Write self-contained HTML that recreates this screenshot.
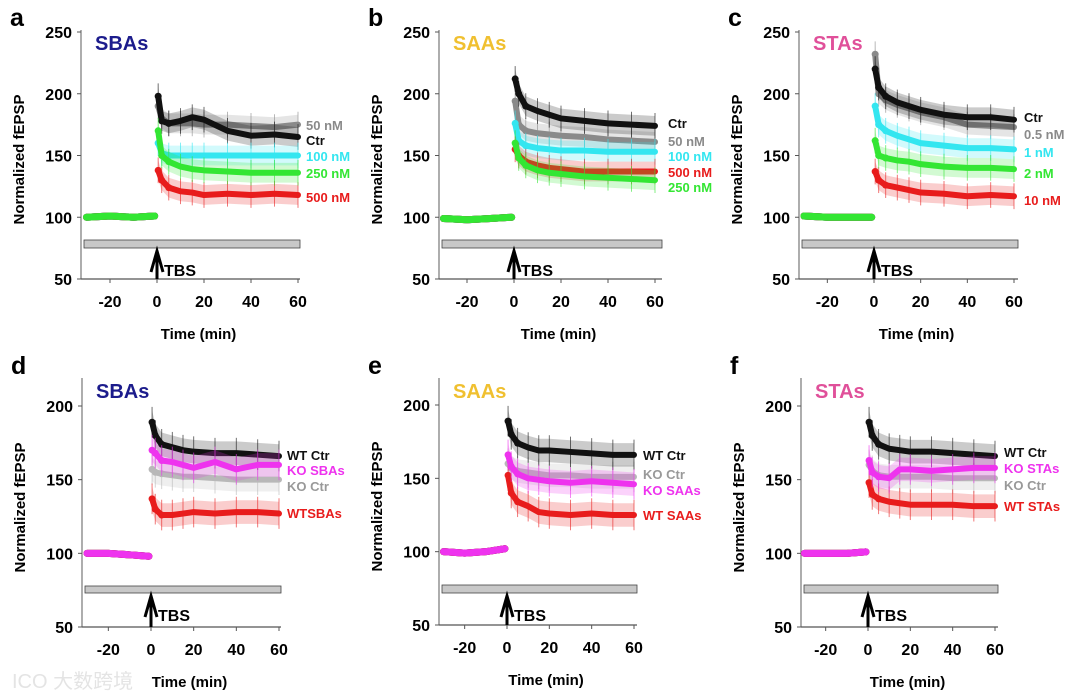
<!DOCTYPE html>
<html><head><meta charset="utf-8"><style>
body{margin:0;background:#fff;}
svg{display:block;font-family:"Liberation Sans",Arial,sans-serif;}
</style></head><body>
<svg id="fig" width="1080" height="698" viewBox="0 0 1080 698" xmlns="http://www.w3.org/2000/svg">
<text x="12" y="688" font-size="20" fill="#e4e4e4" font-family="Liberation Sans, Noto Sans CJK SC, sans-serif">ICO 大数跨境</text>
</svg>
<script>
const T_PRE=[-30,-20,-10,-1];
const T_POST=[0.5,2,5,10,15,20,30,40,50,60];
const X_TICKS=[-20,0,20,40,60];
const Y_TICKS_TOP=[50,100,150,200,250];
const Y_TICKS_BOT=[50,100,150,200];
// panel a
const aPre=[100,101,100,101];
const a50=[190,180,176,176,176,175,175,174,173,175];
const aCtr=[198,178,176,178,181,179,170,166,167,165];
const a100=[160,152,150,150,150,150,150,150,150,150];
const a250=[170,150,145,141,139,138,137,136,136,136];
const a500=[138,130,124,121,120,118,119,118,119,118];
// panel b
const bPre=[99,98,99,100];
const bCtr=[212,200,190,186,183,180,178,176,175,174];
const b50=[194,175,170,168,167,166,165,163,162,161];
const b100=[176,162,158,156,155,154,154,153,153,153];
const b500=[155,150,145,142,140,139,137,137,137,137];
const b250=[160,148,142,138,136,135,133,132,131,130];
// panel c
const cPre=[101,100,100,100];
const cCtr=[220,205,198,193,190,187,183,181,181,179];
const c05=[232,200,195,191,188,185,181,175,174,173];
const c1=[190,175,170,166,163,160,158,156,156,155];
const c2=[162,150,148,146,145,143,141,140,140,139];
const c10=[137,130,126,124,122,120,119,117,118,117];
// panel d
const dPre=[100,100,99,98];
const dWT=[189,180,174,172,170,169,168,168,167,166];
const dKOS=[170,168,163,162,160,158,162,157,160,160];
const dKO=[157,155,154,153,152,152,151,150,150,150];
const dWTS=[137,130,126,126,127,128,127,128,128,127];
// panel e
const ePre=[100,99,100,102];
const eWT=[189,180,174,171,169,169,168,167,166,166];
const eKO=[160,157,155,154,153,152,152,151,151,151];
const eKOS=[166,158,153,150,149,148,147,148,147,146];
const eWTS=[152,140,134,131,127,126,125,126,125,125];
// panel f
const fPre=[100,100,100,101];
const fWT=[189,180,174,171,170,169,169,168,167,166];
const fKOS=[163,155,152,151,157,157,156,157,158,158];
const fKO=[160,156,153,152,152,152,152,151,151,151];
const fWTS=[148,140,137,135,134,133,133,133,132,132];

const BLK='#111',GRY='#8a8a8a',CYN='#33e6f0',GRN='#33e633',RED='#e81c1c',MAG='#ee33ee',LGR='#b8b8b8';
const panels=[
 {id:'a',title:'SBAs',tc:'#1c1c8c',ax:81,top:30,x0:157,x60:298,right:300,yA:250,pA:32,p50:279,yt:Y_TICKS_TOP,bar:[240,248],
  s:[['50 nM',GRY,aPre,a50,125],['Ctr',BLK,aPre,aCtr,140],['100 nM',CYN,aPre,a100,156],['500 nM',RED,aPre,a500,197],['250 nM',GRN,aPre,a250,173]]},
 {id:'b',title:'SAAs',tc:'#f0c030',ax:439,top:30,x0:514,x60:655,right:662,yA:250,pA:32,p50:279,yt:Y_TICKS_TOP,bar:[240,248],
  s:[['50 nM',GRY,bPre,b50,141],['Ctr',BLK,bPre,bCtr,123],['100 nM',CYN,bPre,b100,156],['500 nM',RED,bPre,b500,172],['250 nM',GRN,bPre,b250,187]]},
 {id:'c',title:'STAs',tc:'#e0509a',ax:799,top:30,x0:874,x60:1014,right:1018,yA:250,pA:32,p50:279,yt:Y_TICKS_TOP,bar:[240,248],
  s:[['0.5 nM',GRY,cPre,c05,134],['Ctr',BLK,cPre,cCtr,117],['1 nM',CYN,cPre,c1,152],['10 nM',RED,cPre,c10,200],['2 nM',GRN,cPre,c2,173]]},
 {id:'d',title:'SBAs',tc:'#1c1c8c',ax:82,top:378,x0:151,x60:279,right:281,yA:200,pA:406,p50:627,yt:Y_TICKS_BOT,bar:[586,593],
  s:[['KO Ctr',LGR,dPre,dKO,486],['WT Ctr',BLK,dPre,dWT,455],['WTSBAs',RED,dPre,dWTS,513],['KO SBAs',MAG,dPre,dKOS,470]]},
 {id:'e',title:'SAAs',tc:'#f0c030',ax:439,top:378,x0:507,x60:634,right:637,yA:200,pA:405,p50:625,yt:Y_TICKS_BOT,bar:[585,593],
  s:[['KO Ctr',LGR,ePre,eKO,474],['WT Ctr',BLK,ePre,eWT,455],['WT SAAs',RED,ePre,eWTS,515],['KO SAAs',MAG,ePre,eKOS,490]]},
 {id:'f',title:'STAs',tc:'#e0509a',ax:801,top:378,x0:868,x60:995,right:998,yA:200,pA:406,p50:627,yt:Y_TICKS_BOT,bar:[585,593],
  s:[['KO Ctr',LGR,fPre,fKO,485],['WT Ctr',BLK,fPre,fWT,452],['WT STAs',RED,fPre,fWTS,506],['KO STAs',MAG,fPre,fKOS,468]]}
];
const NS='http://www.w3.org/2000/svg';
const svg=document.getElementById('fig');
function mk(tag,attrs,parent,txt){const e=document.createElementNS(NS,tag);for(const k in attrs)e.setAttribute(k,attrs[k]);if(txt!==undefined)e.textContent=txt;(parent||svg).appendChild(e);return e;}
panels.forEach(P=>{
 const g=mk('g',{});
 
 
 const xs=t=>P.x0+(P.x60-P.x0)*t/60;
 const ys=v=>P.p50+(P.pA-P.p50)*(v-50)/(P.yA-50);
 const L=mk('text',{x:P.ax-71,y:P.top-4,'font-size':25,'font-weight':'bold',fill:'#000'},g,P.id);
 
 
 const T=mk('text',{x:P.ax+14,y:P.top+20,'font-size':20,'font-weight':'bold',fill:P.tc},g,P.title);
 
 
 const ya=mk('line',{x1:P.ax,y1:P.top,x2:P.ax,y2:P.p50,stroke:'#777','stroke-width':1.2},g);
 
 
 const xa=mk('line',{x1:P.ax,y1:P.p50,x2:P.right,y2:P.p50,stroke:'#555','stroke-width':1.2},g);
 
 
 P.yt.forEach(v=>{
  mk('line',{x1:P.ax-4,y1:ys(v),x2:P.ax,y2:ys(v),stroke:'#555'},g);
  const t=mk('text',{x:P.ax-9,y:ys(v)+6,'font-size':16,'font-weight':'bold','text-anchor':'end'},g,v);
  
  
 });
 X_TICKS.forEach(v=>{
  mk('line',{x1:xs(v),y1:P.p50,x2:xs(v),y2:P.p50+4,stroke:'#555'},g);
  const t=mk('text',{x:xs(v),y:P.p50+28,'font-size':16,'font-weight':'bold','text-anchor':'middle'},g,v);
  
  
 });
 const xt=mk('text',{x:(P.ax+P.right)/2+8,y:P.p50+60,'font-size':15,'font-weight':'bold','text-anchor':'middle'},g,'Time (min)');
 
 
 const cy=(P.top+P.p50)/2+5;
 const yt=mk('text',{x:0,y:0,'font-size':15,'font-weight':'bold','text-anchor':'middle',transform:`translate(${P.ax-57},${cy}) rotate(-90)`},g,'Normalized  fEPSP');
 
 
 const br=mk('rect',{x:P.ax+3,y:P.bar[0],width:P.right-P.ax-3,height:P.bar[1]-P.bar[0],fill:'#c8c8c8',stroke:'#444','stroke-width':0.8},g);
 
 
 const ar=mk('path',{d:`M${P.x0},${P.p50} L${P.x0},${P.bar[1]+3} M${P.x0-6},${P.bar[1]+24} L${P.x0},${P.bar[1]+3} L${P.x0+6},${P.bar[1]+24}`,stroke:'#000','stroke-width':3,fill:'none'},g);
 
 
 const tb=mk('text',{x:P.x0+7,y:P.bar[1]+28,'font-size':16,'font-weight':'bold'},g,'TBS');
 
 
 P.s.forEach(S=>{
  const [lab,col,pre,post,ly]=S;
  const sg=mk('g',{},g);
  
  
  const err=8;
  let up=post.map((v,i)=>xs(T_POST[i])+','+ys(v+err));
  let dn=post.map((v,i)=>xs(T_POST[i])+','+ys(v-err)).reverse();
  mk('polygon',{points:up.concat(dn).join(' '),fill:col,opacity:0.22},sg);
  post.forEach((v,i)=>{mk('line',{x1:xs(T_POST[i]),x2:xs(T_POST[i]),y1:ys(v+err*1.3),y2:ys(v-err*1.3),stroke:col,'stroke-width':1,opacity:0.6},sg);});
  mk('polyline',{points:post.map((v,i)=>xs(T_POST[i])+','+ys(v)).join(' '),fill:'none',stroke:col,'stroke-width':6,'stroke-linejoin':'round','stroke-linecap':'round'},sg);
  mk('polyline',{points:pre.map((v,i)=>xs(T_PRE[i])+','+ys(v)).join(' '),fill:'none',stroke:col,'stroke-width':7,'stroke-linejoin':'round','stroke-linecap':'round'},sg);
  post.slice(0,3).forEach((v,i)=>{mk('circle',{cx:xs(T_POST[i]),cy:ys(v),r:3.5,fill:col},sg);});
  const lt=mk('text',{x:P.right+6,y:ly+5,'font-size':13,'font-weight':'bold',fill:col===LGR?'#999':col},g,lab);
  
  
 });
});
</script>
</body></html>
